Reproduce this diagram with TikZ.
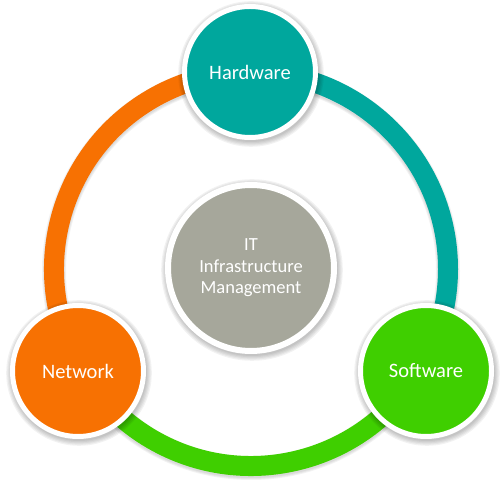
\documentclass[tikz,border=0pt]{standalone}
\usepackage{fontspec}
\setmainfont{Carlito}
\definecolor{tealc}{RGB}{0,167,157}
\definecolor{orangec}{RGB}{247,113,2}
\definecolor{greenc}{RGB}{63,207,0}
\definecolor{greyc}{RGB}{166,167,155}
\begin{document}
\begin{tikzpicture}[x=1pt,y=1pt,
  bubble/.style={circle, draw=white, line width=5pt, minimum size=131pt, inner sep=0pt, text=white, font=\fontsize{20.5}{24}\selectfont},
  hub/.style={circle, draw=white, line width=6pt, minimum size=166pt, inner sep=0pt, fill=greyc, text=white, font=\fontsize{18.5}{21.5}\selectfont},
  ringarc/.style={line width=20pt}]
\useasboundingbox (0,0) rectangle (500,500);
\coordinate (O) at (251,231);
\coordinate (phw) at (250,428);
\coordinate (pnet) at (78,129);
\coordinate (psw) at (426,129);
\coordinate (pitm) at (251,232);
% ring shadow
\foreach \d in {0,1,2} {
  \draw[black, opacity=0.05, line width=20pt+\d*2pt] ([yshift=-2pt]O) circle[radius=197];
}
\draw[ringarc, tealc] (O) ++(90:197) arc[start angle=90, end angle=-30, radius=197];
\draw[ringarc, greenc] (O) ++(-30:197) arc[start angle=-30, end angle=-150, radius=197];
\draw[ringarc, orangec] (O) ++(210:197) arc[start angle=210, end angle=90, radius=197];
% circle shadows
\foreach \c/\r in {phw/68, pnet/68, psw/68, pitm/86} {
  \foreach \d in {0,1,2,3,4} {
    \fill[black, opacity=0.05] ([shift={(1pt,-2pt)}]\c) circle[radius=\r+\d*1.2];
  }
}
\node[bubble, fill=tealc] (hw) at (phw) {Hardware};
\node[bubble, fill=orangec] (net) at (pnet) {Network};
\node[bubble, fill=greenc] (sw) at (psw) {Software};
\node[hub] (itm) at (pitm) {\raisebox{-4pt}{\begin{tabular}{@{}c@{}}IT\\Infrastructure\\Management\end{tabular}}};
\end{tikzpicture}
\end{document}
